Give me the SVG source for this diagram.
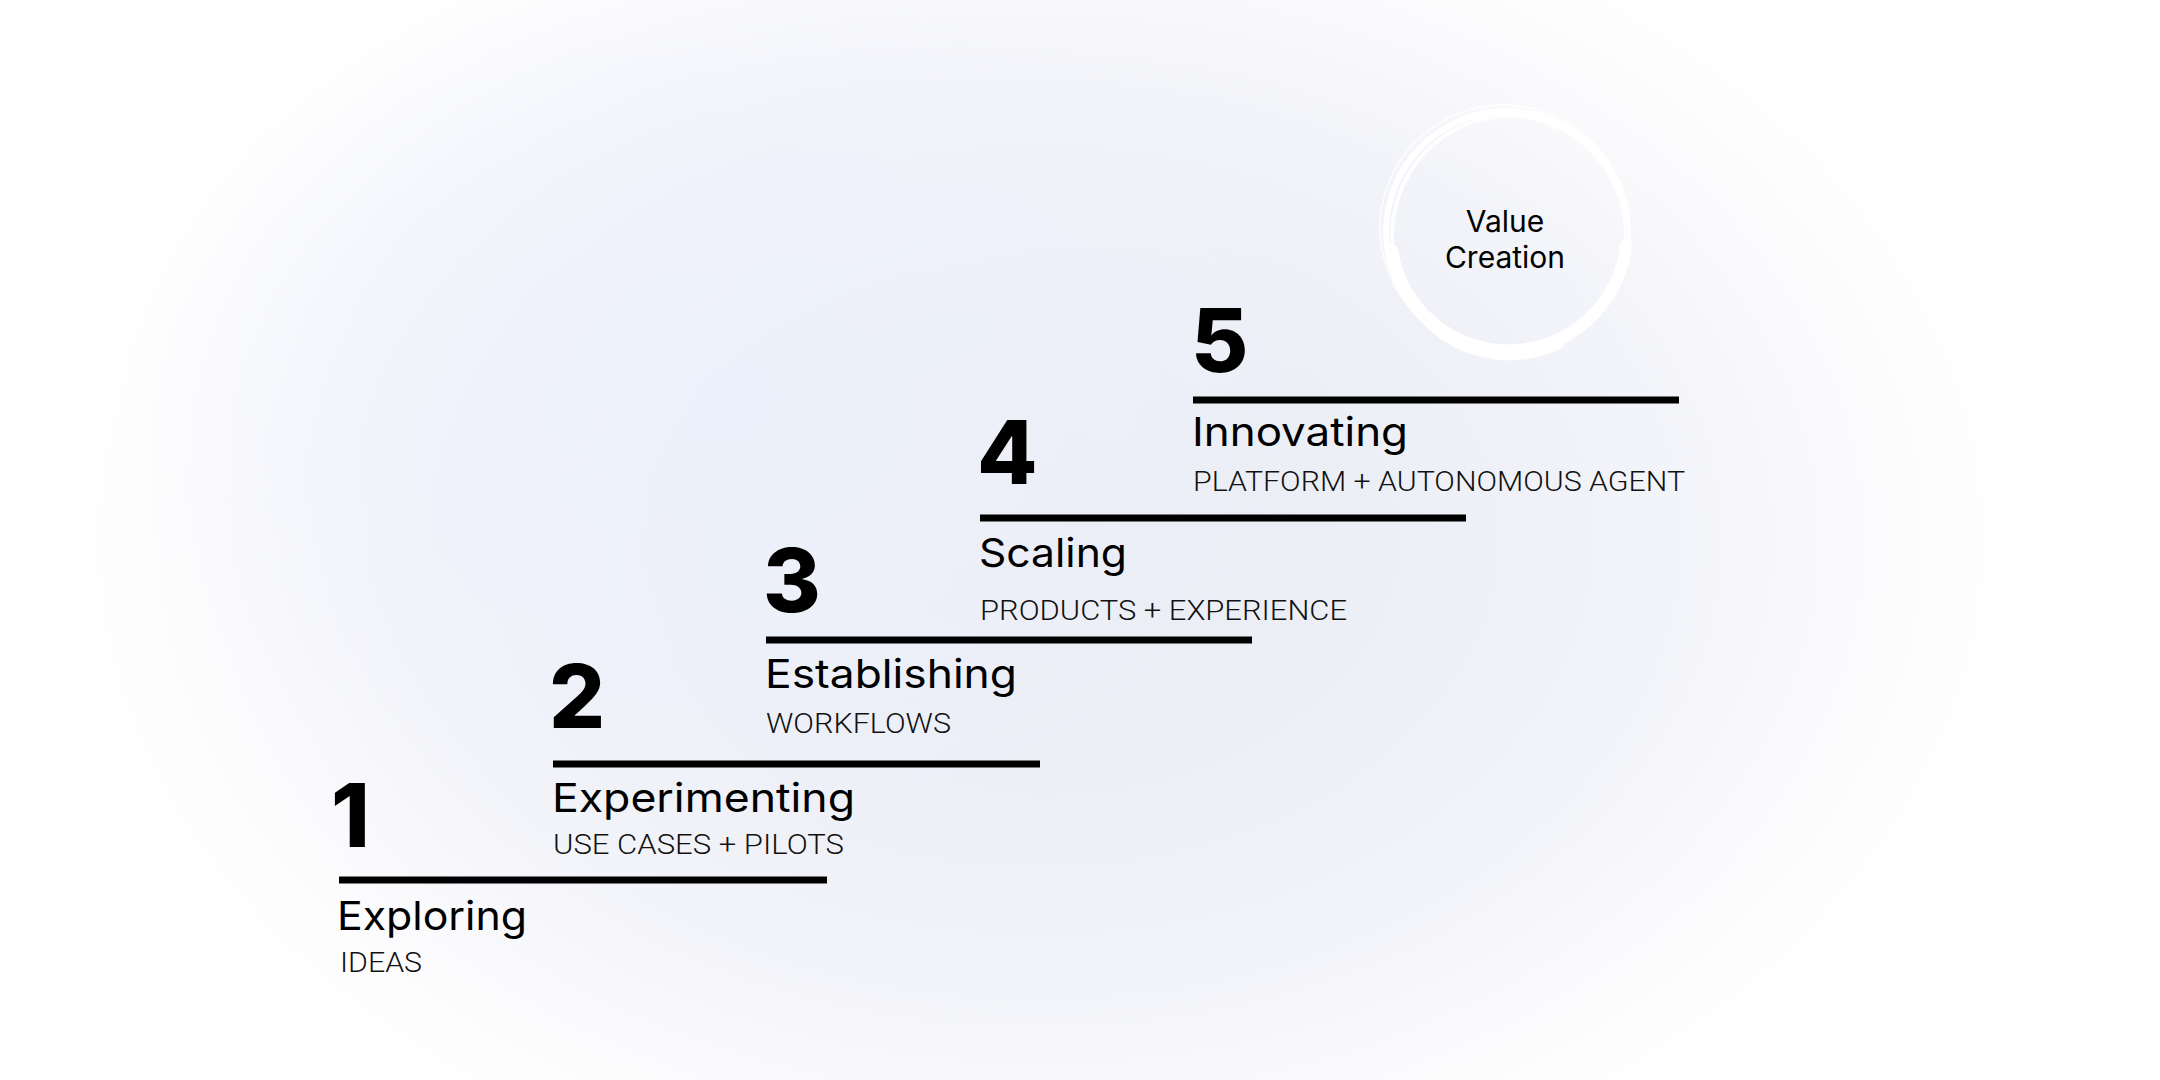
<svg xmlns="http://www.w3.org/2000/svg" width="2160" height="1080" viewBox="0 0 2160 1080">
  <defs>
    <radialGradient id="bgA" cx="1040" cy="540" r="1" gradientUnits="userSpaceOnUse" gradientTransform="translate(1040 540) scale(980 700) translate(-1040 -540)">
      <stop offset="0" stop-color="#eaecf4"/>
      <stop offset="0.35" stop-color="#edeff7"/>
      <stop offset="0.65" stop-color="#f3f4f9"/>
      <stop offset="0.85" stop-color="#fbfbfd"/>
      <stop offset="1" stop-color="#ffffff"/>
    </radialGradient>
    <radialGradient id="bgB" cx="720" cy="400" r="1" gradientUnits="userSpaceOnUse" gradientTransform="translate(720 400) scale(600 450) translate(-720 -400)">
      <stop offset="0" stop-color="#ecf1fd" stop-opacity="0.9"/>
      <stop offset="0.6" stop-color="#eef2fc" stop-opacity="0.45"/>
      <stop offset="1" stop-color="#f0f3fc" stop-opacity="0"/>
    </radialGradient>
  </defs>
  <style>
    .num { font-family: Inter, "DejaVu Sans", sans-serif; font-weight: 800; font-size: 88px; fill: #000; }
    .title { font-family: Inter, "Liberation Sans", sans-serif; font-weight: 400; font-size: 40px; fill: #000; }
    .sub { font-family: Roboto, "Liberation Sans", sans-serif; font-weight: 300; font-size: 28px; fill: #111; }
    .bar { fill: #000; }
    .vc { font-family: Inter, "Liberation Sans", sans-serif; font-weight: 400; font-size: 30px; fill: #000; text-anchor: middle; }
    .ring { fill: none; stroke: #ffffff; stroke-linecap: round; }
  </style>
  <rect x="0" y="0" width="2160" height="1080" fill="url(#bgA)"/>
  <rect x="0" y="0" width="2160" height="1080" fill="url(#bgB)"/>

  <g id="value-creation">
    <circle class="ring" cx="1507" cy="232" r="121" stroke-width="6"/>
    <ellipse class="ring" cx="1509" cy="236" rx="117" ry="120" stroke-width="4" stroke-opacity="0.85"/>
    <ellipse class="ring" cx="1504" cy="228" rx="124" ry="123" stroke-width="2" stroke-opacity="0.7"/>
    <path class="ring" d="M 1392 250 A 118 118 0 0 0 1626 245" stroke-width="12"/>
    <path class="ring" d="M 1400 280 A 116 114 0 0 0 1560 345" stroke-width="8" stroke-opacity="0.9"/>
    <path class="ring" d="M 1420 148 A 120 118 0 0 1 1600 160" stroke-width="3" stroke-opacity="0.8"/>
    <path class="ring" d="M 1400 190 A 112 112 0 0 1 1440 140" stroke-width="2" stroke-opacity="0.7"/>
    <text class="vc" x="1505" y="232">Value</text>
    <text class="vc" x="1505" y="268">Creation</text>
  </g>

  <g id="connectors">
    <rect class="bar" x="339" y="876.5" width="488" height="7"/>
    <rect class="bar" x="553" y="760.5" width="487" height="7"/>
    <rect class="bar" x="766" y="636.5" width="486" height="7"/>
    <rect class="bar" x="980" y="514.5" width="486" height="7"/>
    <rect class="bar" x="1193" y="396.5" width="486" height="7"/>
  </g>

  <g id="step-1">
    <text class="num" x="331" y="847">1</text>
    <text class="title" x="337" y="930" textLength="190" lengthAdjust="spacingAndGlyphs">Exploring</text>
    <text class="sub" x="340" y="972" textLength="82" lengthAdjust="spacingAndGlyphs">IDEAS</text>
  </g>
  <g id="step-2">
    <text class="num" x="549" y="728">2</text>
    <text class="title" x="552" y="812" textLength="303" lengthAdjust="spacingAndGlyphs">Experimenting</text>
    <text class="sub" x="553" y="854" textLength="291" lengthAdjust="spacingAndGlyphs">USE CASES + PILOTS</text>
  </g>
  <g id="step-3">
    <text class="num" x="763" y="612">3</text>
    <text class="title" x="765" y="688" textLength="252" lengthAdjust="spacingAndGlyphs">Establishing</text>
    <text class="sub" x="766" y="733" textLength="185" lengthAdjust="spacingAndGlyphs">WORKFLOWS</text>
  </g>
  <g id="step-4">
    <text class="num" x="977" y="484">4</text>
    <text class="title" x="979" y="567" textLength="148" lengthAdjust="spacingAndGlyphs">Scaling</text>
    <text class="sub" x="980" y="620" textLength="367" lengthAdjust="spacingAndGlyphs">PRODUCTS + EXPERIENCE</text>
  </g>
  <g id="step-5">
    <text class="num" x="1191" y="372">5</text>
    <text class="title" x="1192" y="446" textLength="216" lengthAdjust="spacingAndGlyphs">Innovating</text>
    <text class="sub" x="1193" y="491" textLength="492" lengthAdjust="spacingAndGlyphs">PLATFORM + AUTONOMOUS AGENT</text>
  </g>
</svg>
